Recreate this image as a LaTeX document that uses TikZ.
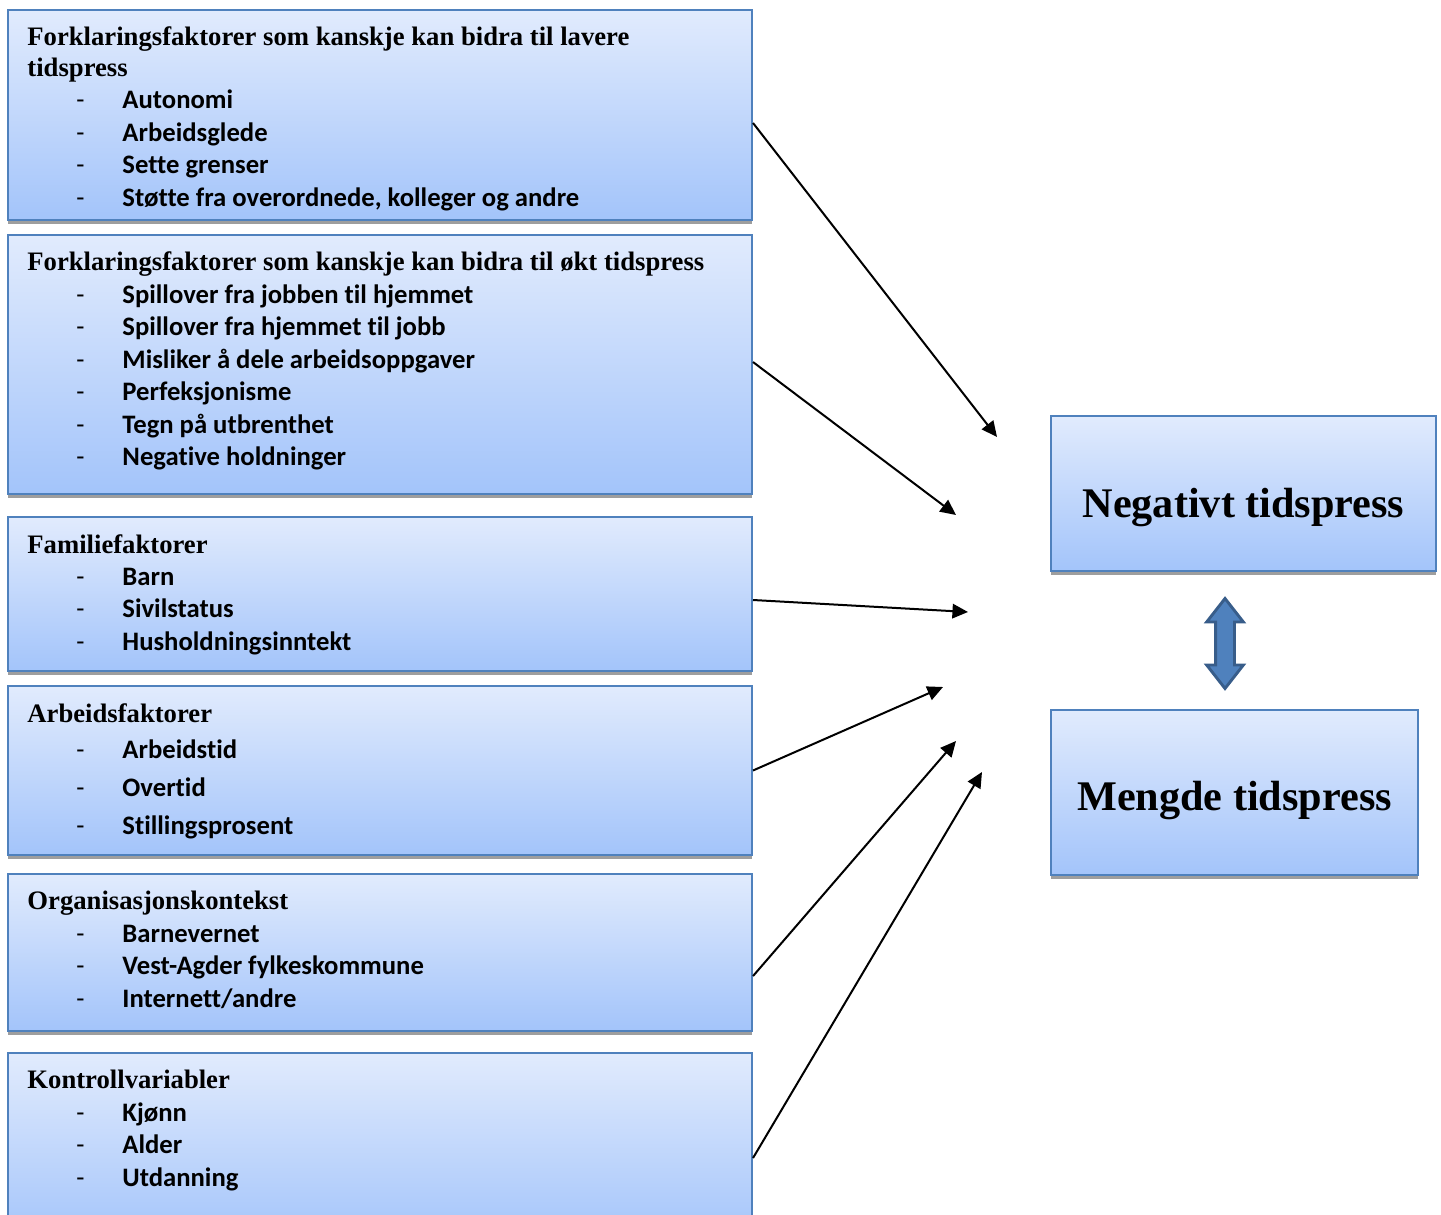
\documentclass[tikz,border=0pt]{standalone}
\usepackage{fontspec}
\setmainfont{Liberation Serif}
\newfontfamily\itemfont[Ligatures=NoCommon]{Carlito}
\usetikzlibrary{positioning}
\usetikzlibrary{arrows.meta}
\usetikzlibrary{shadows}
\usetikzlibrary{shapes.arrows}
\definecolor{boxtop}{RGB}{225,235,253}
\definecolor{boxbottom}{RGB}{163,196,250}
\definecolor{boxline}{RGB}{79,129,189}
\definecolor{linkfill}{RGB}{79,129,189}
\definecolor{linkline}{RGB}{56,93,138}
\newcommand{\punkt}[1]{\hspace*{22pt}\makebox[20.75pt][l]{\itemfont\mdseries -}{\itemfont #1}}
\tikzset{
    factor/.style={
        draw=boxline,
        line width=0.9pt,
        top color=boxtop,
        bottom color=boxbottom,
        drop shadow={shadow xshift=0pt, shadow yshift=-1.8pt, fill=black!38, opacity=1},
        minimum width=334.8pt,
        inner sep=0pt},
    factortext/.style={
        anchor=north west,
        align=left,
        inner sep=0pt,
        font=\fontsize{12}{14.6}\selectfont\bfseries},
    outcome/.style={
        factor,
        text depth=4.2pt,
        font=\fontsize{19}{23}\selectfont\bfseries},
    every edge/.style={
        draw,
        -{Triangle[length=7pt,width=6.5pt]},
        line width=0.9pt}}
\begin{document}
\begin{tikzpicture}[x=0.45pt,y=-0.45pt]
        \useasboundingbox (0,0) rectangle (1441,1215);
        \node[factor, minimum height=94.5pt] (b1) at (380,115) {};
        \node[factor, minimum height=116.55pt] (b2) at (380,364.5) {};
        \node[factor, minimum height=69.3pt] (b3) at (380,594) {};
        \node[factor, minimum height=76.05pt] (b4) at (380,770.5) {};
        \node[factor, minimum height=70.65pt] (b5) at (380,952.5) {};
        \node[factor, minimum height=85.5pt] (b6) at (380,1148) {};

        \node[factortext] (b1t) at ([xshift=9pt,yshift=-8pt]b1.north west) {Forklaringsfaktorer som kanskje kan bidra til lavere\\[-0.65pt]
            tidspress\\[-0.2pt]
            \punkt{Autonomi}\\
            \punkt{Arbeidsglede}\\
            \punkt{Sette grenser}\\
            \punkt{Støtte fra overordnede, kolleger og andre}};
        \node[factortext] (b2t) at ([xshift=9pt,yshift=-8pt]b2.north west) {Forklaringsfaktorer som kanskje kan bidra til økt tidspress\\
            \punkt{Spillover fra jobben til hjemmet}\\
            \punkt{Spillover fra hjemmet til jobb}\\
            \punkt{Misliker å dele arbeidsoppgaver}\\
            \punkt{Perfeksjonisme}\\
            \punkt{Tegn på utbrenthet}\\
            \punkt{Negative holdninger}};
        \node[factortext] (b3t) at ([xshift=9pt,yshift=-8pt]b3.north west) {Familiefaktorer\\
            \punkt{Barn}\\
            \punkt{Sivilstatus}\\
            \punkt{Husholdningsinntekt}};
        \node[factortext] (b4t) at ([xshift=9pt,yshift=-8pt]b4.north west) {Arbeidsfaktorer\\[1.6pt]
            \punkt{Arbeidstid}\\[2.5pt]
            \punkt{Overtid}\\[2.5pt]
            \punkt{Stillingsprosent}};
        \node[factortext] (b5t) at ([xshift=9pt,yshift=-8pt]b5.north west) {Organisasjonskontekst\\
            \punkt{Barnevernet}\\
            \punkt{Vest-Agder fylkeskommune}\\
            \punkt{Internett/andre}};
        \node[factortext] (b6t) at ([xshift=9pt,yshift=-8pt]b6.north west) {Kontrollvariabler\\
            \punkt{Kjønn}\\
            \punkt{Alder}\\
            \punkt{Utdanning}};

        \node[outcome, minimum width=173.25pt, minimum height=69.75pt, text height=25.4pt] (neg) at (1243.5,493.5) {Negativt tidspress};
        \node[outcome, minimum width=165.15pt, minimum height=74.25pt, text height=20pt] (men) at (1234.5,792.5) {Mengde tidspress};
        \node[double arrow, rotate=90, fill=linkfill, draw=linkline, line width=1.3pt,
            minimum height=40.5pt, minimum width=15.3pt, inner xsep=0pt, inner ysep=3.6pt,
            double arrow head extend=4pt, double arrow tip angle=76] (link) at (1225,643.5) {};

        \coordinate (t1) at (997,437);
        \coordinate (t2) at (956,515);
        \coordinate (t3) at (968,612);
        \coordinate (t4) at (943,687);
        \coordinate (t5) at (956,741);
        \coordinate (t6) at (982,772);

        \draw ([yshift=-3.6pt]b1.east) edge (t1);
        \draw ([yshift=1.1pt]b2.east) edge (t2);
        \draw ([yshift=-2.7pt]b3.east) edge (t3);
        \draw (b4.east) edge (t4);
        \draw ([yshift=-10.6pt]b5.east) edge (t5);
        \draw ([yshift=-4.5pt]b6.east) edge (t6);
    \end{tikzpicture}
\end{document}
